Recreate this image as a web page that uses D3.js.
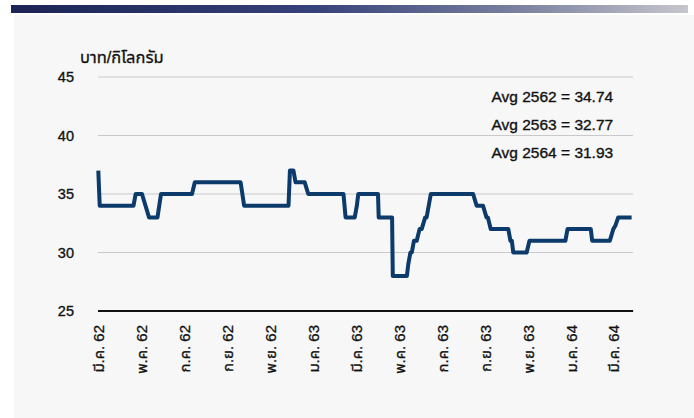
<!DOCTYPE html>
<html><head><meta charset="utf-8">
<script src="https://cdn.jsdelivr.net/npm/d3@7"></script>
<style>
html,body{margin:0;padding:0;background:#fff;}
svg{display:block;font-family:"Liberation Sans",Arial,"Noto Sans Thai UI","Noto Sans Thai",sans-serif;}
</style></head>
<body>
<svg id="c" width="694" height="418"></svg>
<script>
// ---- data ----
const dates = ["2019-03-01","2019-03-03","2019-04-20","2019-04-23","2019-05-02","2019-05-12","2019-05-24","2019-05-29",
"2019-07-12","2019-07-16","2019-09-19","2019-09-24","2019-11-26","2019-11-28","2019-12-03","2019-12-06","2019-12-19","2019-12-24",
"2020-02-12","2020-02-15","2020-02-28","2020-03-02","2020-03-04","2020-04-01","2020-04-02","2020-04-21","2020-04-22",
"2020-05-12","2020-05-14","2020-05-17","2020-05-19","2020-05-22","2020-05-26","2020-05-30","2020-06-02","2020-06-07","2020-06-09","2020-06-15",
"2020-08-14","2020-08-19","2020-08-28","2020-09-02","2020-09-04","2020-09-08","2020-10-03","2020-10-06","2020-10-08","2020-10-10",
"2020-10-29","2020-11-02","2020-12-23","2020-12-26","2021-01-28","2021-01-30","2021-02-24","2021-03-01","2021-03-04","2021-03-08","2021-03-27"];
const prices = [37,34,34,35,35,33,33,35,
35,36,36,34,34,37,37,36,36,35,
35,33,33,34,35,35,33,33,28,
28,29,30,30,31,31,32,32,33,33,35,
35,34,34,33,33,32,32,31,31,30,
30,31,31,32,32,31,31,32,32.3,33,33];
const tickDates = ["2019-03-01","2019-05-01","2019-07-01","2019-09-01","2019-11-01","2020-01-01","2020-03-01",
"2020-05-01","2020-07-01","2020-09-01","2020-11-01","2021-01-01","2021-03-01"];
const tickLabels = ["มี.ค. 62","พ.ค. 62","ก.ค. 62","ก.ย. 62","พ.ย. 62","ม.ค. 63","มี.ค. 63",
"พ.ค. 63","ก.ค. 63","ก.ย. 63","พ.ย. 63","ม.ค. 64","มี.ค. 64"];
const yTicks = [25,30,35,40,45];
const avgLabels = ["Avg 2562 = 34.74","Avg 2563 = 32.77","Avg 2564 = 31.93"];
const yTitle = "บาท/กิโลกรัม";

const parse = d3.timeParse("%Y-%m-%d");
const data = dates.map((d,i)=>({date:parse(d), v:prices[i]}));

const svg = d3.select("#c");
// header gradient
const defs = svg.append("defs");
const g = defs.append("linearGradient").attr("id","hdr").attr("x1","0").attr("x2","1");
[["0%","#1b2454"],["45%","#36427a"],["75%","#7b819f"],["100%","#c6c6cc"]].forEach(s=>g.append("stop").attr("offset",s[0]).attr("stop-color",s[1]));
svg.append("rect").attr("x",11).attr("y",5).attr("width",677).attr("height",8).attr("fill","url(#hdr)");
svg.append("rect").attr("x",14).attr("y",15).attr("width",680).attr("height",403).attr("fill","#f7f7f7");

const x = d3.scaleTime().domain([parse("2019-03-01"), parse("2021-03-01")]).range([98.3, 613.3]);
const y = d3.scaleLinear().domain([25,45]).range([311,77]);
const xEnd = x(parse("2021-03-27"))+1.5;

// gridlines
svg.append("g").selectAll("line").data(yTicks.filter(t=>t>25)).join("line")
  .attr("x1",98).attr("x2",xEnd).attr("y1",d=>y(d)).attr("y2",d=>y(d))
  .attr("stroke","#c9c9c9").attr("stroke-width",1);
// y labels
svg.append("g").selectAll("text").data(yTicks).join("text")
  .attr("x",74).attr("y",d=>y(d)).attr("dy","0.36em").attr("text-anchor","end")
  .attr("font-size",14.5).attr("fill","#111").attr("stroke","#111").attr("stroke-width",0.35).text(d=>d);
// axis
svg.append("line").attr("x1",98).attr("x2",xEnd).attr("y1",y(25)).attr("y2",y(25))
  .attr("stroke","#111").attr("stroke-width",2);
// y title
svg.append("text").attr("x",80).attr("y",63).attr("font-size",16.5).attr("fill","#111")
  .attr("stroke","#111").attr("stroke-width",0.3).text(yTitle);
// x labels
svg.append("g").selectAll("text").data(tickDates).join("text")
  .attr("transform",d=>`translate(${x(parse(d))},325) rotate(-90)`)
  .attr("text-anchor","end").attr("dy","0.36em").attr("font-size",15).attr("fill","#111")
  .attr("stroke","#111").attr("stroke-width",0.3)
  .text((d,i)=>tickLabels[i]);
// avg labels
svg.append("g").selectAll("text").data(avgLabels).join("text")
  .attr("x",491.5).attr("y",(d,i)=>102+i*28).attr("font-size",15.5).attr("fill","#111")
  .attr("stroke","#111").attr("stroke-width",0.35).text(d=>d);
// line
svg.append("path").datum(data)
  .attr("d",d3.line().x(d=>x(d.date)).y(d=>y(d.v)))
  .attr("fill","none").attr("stroke","#0b3a6b").attr("stroke-width",4).attr("stroke-linejoin","round");
</script>
</body></html>
